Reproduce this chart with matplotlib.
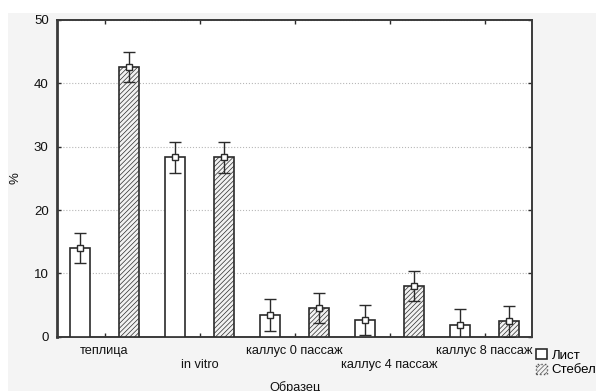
import matplotlib
matplotlib.use('Agg')
import matplotlib.pyplot as plt
import matplotlib.patches as patches
import numpy as np

# Sample groups and measured shares (%), mean +/- error
categories = ["теплица", "in vitro", "каллус 0 пассаж", "каллус 4 пассаж", "каллус 8 пассаж"]
leaf_values = [14.0, 28.3, 3.4, 2.6, 1.8]
stem_values = [42.6, 28.3, 4.5, 8.0, 2.4]
leaf_err = [2.4, 2.4, 2.5, 2.4, 2.5]
stem_err = [2.4, 2.4, 2.4, 2.4, 2.4]
series_labels = ["Лист", "Стебель"]
y_ticks = [0, 10, 20, 30, 40, 50]

plt.rcParams['font.family'] = ['Liberation Sans', 'DejaVu Sans']
plt.rcParams['hatch.linewidth'] = 0.5

dark = '#2b2b2b'
txt = '#111111'

fig = plt.figure(figsize=(5.96, 3.91), dpi=100)
fig.patch.set_facecolor('white')
# light grey panel behind the chart
fig.add_artist(patches.Rectangle((8 / 596, 0), 1, 1 - 13 / 391,
                                 transform=fig.transFigure, facecolor='#f4f4f4',
                                 edgecolor='none', zorder=-10))

ax = fig.add_axes([57 / 596, 1 - 336.7 / 391, 475 / 596, 316.7 / 391])
ax.set_facecolor('white')

x = np.arange(len(categories))
offset = 0.258
width = 0.21

ax.bar(x - offset, leaf_values, width, color='white', edgecolor=dark, linewidth=1.2, zorder=3)
ax.bar(x + offset, stem_values, width, color='#f2f2f2', edgecolor=dark, linewidth=1.2,
       hatch='///////', zorder=3)

for xs, vals, errs in [(x - offset, leaf_values, leaf_err), (x + offset, stem_values, stem_err)]:
    ax.errorbar(xs, vals, yerr=errs, fmt='s', color=dark, ecolor=dark, elinewidth=1.0,
                capsize=4, capthick=1.0, markersize=5, markerfacecolor='white',
                markeredgecolor=dark, markeredgewidth=1.0, zorder=4)

ax.set_xlim(-0.5, len(categories) - 0.5)
ax.set_ylim(0, 50)
ax.set_yticks(y_ticks)
ax.set_xticks(x)
ax.set_xticklabels([])
ax.tick_params(axis='both', direction='in', length=3, width=1.0, color=dark,
               top=True, right=True, labelsize=9.5, labelcolor=txt)
ax.tick_params(axis='y', pad=6)

for sp in ax.spines.values():
    sp.set_color('#3a3a3a')
    sp.set_linewidth(1.4)
ax.spines['left'].set_linewidth(2.0)

ax.yaxis.grid(True, linestyle=':', color='#b8b8b8', linewidth=0.8, zorder=0)
ax.set_axisbelow(True)

# staggered category labels
trans = ax.get_xaxis_transform()
for i, name in enumerate(categories):
    y = -0.046 if i % 2 == 0 else -0.090
    ax.text(i, y, name, transform=trans, ha='center', va='center',
            fontsize=9.2, color=txt)

ax.text(0.5, -0.159, "Образец", transform=ax.transAxes, ha='center', va='center',
        fontsize=9.2, color=txt)
ax.set_ylabel('%', fontsize=9.5, color=txt)
ax.yaxis.set_label_coords(-0.074, 0.5)

handles = [patches.Patch(facecolor='white', edgecolor=dark, linewidth=1.2),
           patches.Patch(facecolor='#f2f2f2', edgecolor='#555555', linewidth=1.0,
                         hatch='///////', linestyle=':')]
fig.legend(handles, series_labels, loc='upper left',
           bbox_to_anchor=(536 / 596, 1 - 349 / 391), frameon=False, fontsize=9.5,
           handlelength=0.8, handleheight=0.8, handletextpad=0.4, labelspacing=0.15,
           borderpad=0, borderaxespad=0)

fig.savefig('out.png', dpi=100)
